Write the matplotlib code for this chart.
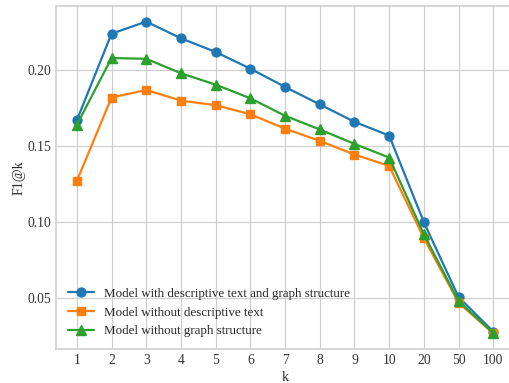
import matplotlib.pyplot as plt

# data
k_labels = ["1", "2", "3", "4", "5", "6", "7", "8", "9", "10", "20", "50", "100"]
full_model = [0.167, 0.224, 0.232, 0.221, 0.212, 0.201, 0.189, 0.1775, 0.166, 0.157, 0.100, 0.0507, 0.028]
no_text = [0.127, 0.182, 0.187, 0.180, 0.177, 0.171, 0.1615, 0.1535, 0.1445, 0.137, 0.0895, 0.047, 0.0268]
no_graph = [0.164, 0.208, 0.2075, 0.198, 0.1905, 0.1815, 0.170, 0.161, 0.1515, 0.1425, 0.092, 0.048, 0.027]

plt.style.use("seaborn-v0_8-whitegrid")
plt.rcParams["font.family"] = ["Liberation Serif", "DejaVu Serif"]
plt.rcParams["font.size"] = 10

fig = plt.figure(figsize=(5.09, 3.83), dpi=100)
ax = fig.add_axes([0.110, 0.0888, 0.900, 0.8956])

x = list(range(len(k_labels)))
ax.plot(x, full_model, marker="o", markersize=6.4, linewidth=1.6,
        color="#1f77b4", label="Model with descriptive text and graph structure")
ax.plot(x, no_text, marker="s", markersize=6.4, linewidth=1.6,
        color="#ff7f0e", label="Model without descriptive text")
ax.plot(x, no_graph, marker="^", markersize=7, linewidth=1.6,
        color="#2ca02c", label="Model without graph structure")

ax.set_xticks(x)
ax.set_xticklabels(k_labels)
ax.set_yticks([0.05, 0.10, 0.15, 0.20])
ax.set_xlabel("k", fontsize=10, labelpad=3)
ax.set_ylabel("F1@k", fontsize=10, labelpad=1)

for s in ax.spines.values():
    s.set_visible(True)
    s.set_color("#d0d0d0")
    s.set_linewidth(1.2)
ax.tick_params(colors="#333333", labelsize=9.8)

ax.legend(loc="lower left", frameon=False, fontsize=9.4)

fig.savefig("out.png", dpi=100)
